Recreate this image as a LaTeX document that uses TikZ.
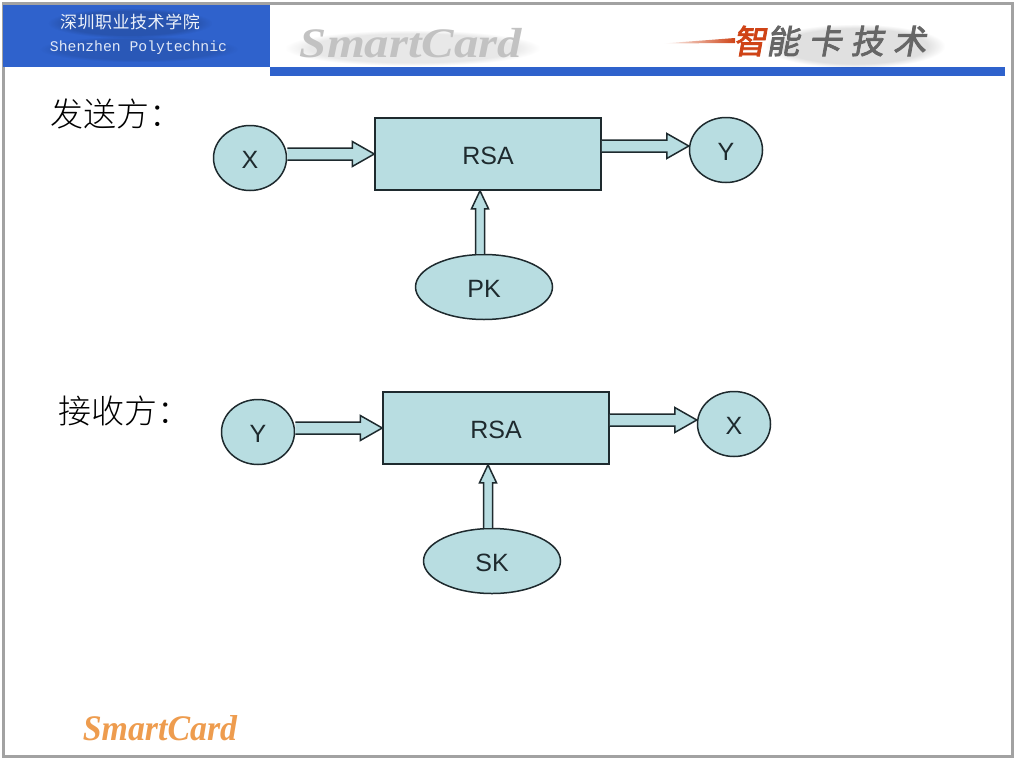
\documentclass[tikz,border=0pt]{standalone}
\usepackage{fontspec}
\setmainfont{Liberation Sans}
\newfontfamily\cjk{Noto Sans CJK SC Light}
\newfontfamily\cjkbrush[LetterSpace=28,FakeSlant=0.18,FakeBold=2.5]{Noto Sans CJK SC}
\newfontfamily\cjkhead[LetterSpace=3]{Noto Sans CJK SC}
\newfontfamily\monohead{Liberation Mono}
\newfontfamily\logo{Liberation Serif}
\usetikzlibrary{calc,shapes.geometric,fadings}
\definecolor{frameg}{HTML}{A2A2A2}
\definecolor{headblue}{HTML}{2F62CC}
\definecolor{pale}{HTML}{B8DDE1}
\definecolor{ink}{HTML}{1E2A2E}
\definecolor{logoorange}{HTML}{EE9C4E}
\definecolor{brushred}{HTML}{CF4316}
\definecolor{brushgray}{HTML}{666666}
\tikzset{
  x=1pt,y=-1pt,
  shapeline/.style={draw=ink,line width=1.5pt,fill=pale,text height=20pt,text depth=0pt},
  circ/.style={shapeline,ellipse,inner sep=0pt,minimum width=73pt,minimum height=65pt,font=\fontsize{25}{25}\selectfont,text=ink},
  keyell/.style={shapeline,ellipse,inner sep=0pt,minimum width=137pt,minimum height=65pt,font=\fontsize{25}{25}\selectfont,text=ink},
  rsabox/.style={shapeline,rectangle,inner sep=0pt,minimum width=226pt,minimum height=72pt,font=\fontsize{25}{25}\selectfont,text=ink},
  sidelabel/.style={inner sep=0pt,font=\cjk\fontsize{33}{33}\selectfont,text=black},
  softshade/.style={path fading=circle with fuzzy edge 20 percent}
}
% block arrow from #1 to #2: half shaft #3, half head #4, head length #5
\newcommand{\blockarrow}[5]{%
  \coordinate (as) at (#1);
  \coordinate (at) at (#2);
  \coordinate (ah) at ($(at)!#5pt!(as)$);
  \fill[pale] ($(as)!#3pt!90:(at)$) -- ($(ah)!#3pt!-90:(as)$) -- ($(ah)!#4pt!-90:(as)$) -- (at)
    -- ($(ah)!#4pt!90:(as)$) -- ($(ah)!#3pt!90:(as)$) -- ($(as)!#3pt!-90:(at)$) -- cycle;
  \draw[draw=ink,line width=1.5pt,line join=miter]
    ($(as)!#3pt!90:(at)$) -- ($(ah)!#3pt!-90:(as)$) -- ($(ah)!#4pt!-90:(as)$) -- (at)
    -- ($(ah)!#4pt!90:(as)$) -- ($(ah)!#3pt!90:(as)$) -- ($(as)!#3pt!-90:(at)$);
}
\begin{document}
\begin{tikzpicture}
\useasboundingbox (0,0) rectangle (1024,768);
\fill[white] (0,0) rectangle (1024,768);
% frame and header
\draw[frameg,line width=3pt] (3.5,3.5) rectangle (1012.5,756.5);
\fill[headblue] (3,5) rectangle (270,67);
\fill[headblue] (270,67) rectangle (1005,76);
\fill[black,opacity=.14,softshade] (48,8) rectangle (212,38);
\fill[black,opacity=.10,softshade] (40,36) rectangle (238,62);
\node[inner sep=0pt,text=white!92!headblue,font=\cjkhead\fontsize{17}{17}\selectfont] (school) at (130,22) {深圳职业技术学院};
\node[inner sep=0pt,text=white!85!headblue,font=\monohead\fontsize{14.75}{15}\selectfont] (schoolen) at (138.5,48) {Shenzhen Polytechnic};
% header logos
\fill[black,opacity=.09,softshade] (285,30) rectangle (540,66);
\node[inner sep=0pt,text=black!24,font=\logo\bfseries\itshape\fontsize{42}{42}\selectfont,xscale=1.16] (wordmark) at (411,43) {SmartCard};
\fill[brushred,path fading=west] (663,43.5) -- (735,38) -- (735,43) -- cycle;
\fill[black,opacity=.12,softshade] (765,24) rectangle (945,68);
\node[inner sep=0pt,anchor=west,text=brushgray,font=\cjkbrush\fontsize{33}{33}\selectfont] (brush) at (733,41) {\textcolor{brushred}{智}能卡技术};
% sender
\node[sidelabel,anchor=west] (sendlabel) at (50,114) {发送方：};
\node[rsabox] (rsa1) at (488,154) {RSA};
\node[circ] (x1) at (250,158) {X};
\node[circ] (y1) at (726,150) {Y};
\node[keyell] (pk) at (484,287) {PK};
\coordinate (t1) at ($(y1.west)+(0,-4)$);
\coordinate (t2) at ($(rsa1.south)+(-8,0)$);
\blockarrow{x1.east |- rsa1.west}{rsa1.west}{6}{12.5}{22}
\blockarrow{rsa1.east |- t1}{t1}{6}{12.5}{22}
\blockarrow{t2 |- pk.north}{t2}{4.5}{8.5}{18}
% receiver
\node[sidelabel,anchor=west] (recvlabel) at (58,411) {接收方：};
\node[rsabox] (rsa2) at (496,428) {RSA};
\node[circ] (y2) at (258,432) {Y};
\node[circ] (x2) at (734,424) {X};
\node[keyell] (sk) at (492,561) {SK};
\coordinate (t3) at ($(x2.west)+(0,-4)$);
\coordinate (t4) at ($(rsa2.south)+(-8,0)$);
\blockarrow{y2.east |- rsa2.west}{rsa2.west}{6}{12.5}{22}
\blockarrow{rsa2.east |- t3}{t3}{6}{12.5}{22}
\blockarrow{t4 |- sk.north}{t4}{4.5}{8.5}{18}
% footer logo
\node[inner sep=0pt,text=logoorange,font=\logo\bfseries\itshape\fontsize{36}{36}\selectfont,xscale=.94] (footlogo) at (160,728) {SmartCard};
\end{tikzpicture}
\end{document}
